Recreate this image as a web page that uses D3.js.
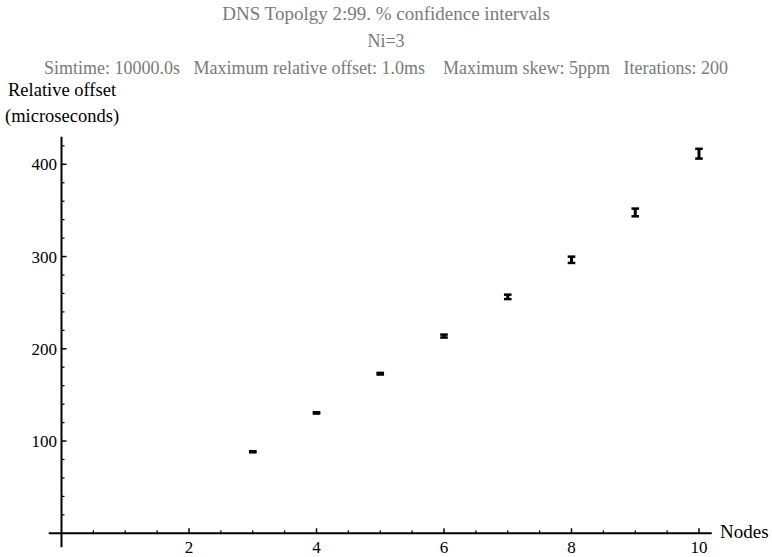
<!DOCTYPE html>
<html>
<head>
<meta charset="utf-8">
<script src="https://cdn.jsdelivr.net/npm/d3@7"></script>
<style>
  body { margin: 0; background: #fff; }
  svg text { font-family: "Liberation Serif", "Times New Roman", serif; white-space: pre; }
</style>
</head>
<body>
<svg id="chart" width="772" height="557"></svg>
<script>
// Data: nodes vs mean relative offset and 99% CI half-width (microseconds)
const nodes = [3, 4, 5, 6, 7, 8, 9, 10];
const offsets = [88.4, 130.5, 173, 213.8, 256.3, 296.5, 347.8, 411.5];
const ciHalf = [0.6, 0.7, 0.9, 1.6, 2.4, 3.4, 4.2, 5.3];

const xMajor = [2, 4, 6, 8, 10];
const yMajor = [100, 200, 300, 400];

const titleLines = [
    "DNS Topolgy 2:99. % confidence intervals",
    "Ni=3",
    "Simtime: 10000.0s   Maximum relative offset: 1.0ms    Maximum skew: 5ppm   Iterations: 200"
];

const svg = d3.select("#chart");

// scales - axes cross at (0,0)
const x = d3.scaleLinear().domain([0, 10]).range([61.5, 699]);
const y = d3.scaleLinear().domain([0, 400]).range([533.3, 164.3]);

const axisColor = "#000";

/* ------- TITLES ------- */
const titleY = [20, 47, 74];
const titleSize = [19, 18, 18];
svg.append("g").selectAll("text")
    .data(titleLines)
    .enter().append("text")
    .attr("x", 386)
    .attr("y", (d, i) => titleY[i])
    .attr("text-anchor", "middle")
    .attr("fill", "#7a7a7a")
    .style("font-size", (d, i) => titleSize[i] + "px")
    .text(d => d);

/* ------- AXES ------- */
const axes = svg.append("g");

// x axis line
axes.append("line")
    .attr("x1", x(-0.2)).attr("x2", x(10.2))
    .attr("y1", y(0)).attr("y2", y(0))
    .attr("stroke", axisColor).attr("stroke-width", 2);

// y axis line
axes.append("line")
    .attr("x1", x(0)).attr("x2", x(0))
    .attr("y1", y(-15)).attr("y2", y(430))
    .attr("stroke", axisColor).attr("stroke-width", 2);

// x ticks: minor every 0.5, major every 2
const xTicks = d3.range(0.5, 10.01, 0.5);
axes.append("g").selectAll("line")
    .data(xTicks)
    .enter().append("line")
    .attr("x1", d => x(d)).attr("x2", d => x(d))
    .attr("y1", y(0))
    .attr("y2", d => y(0) - (xMajor.includes(d) ? 5 : 3))
    .attr("stroke", axisColor)
    .attr("stroke-width", d => xMajor.includes(d) ? 1.5 : 1.2);

// y ticks: minor every 20, major every 100
const yTicks = d3.range(20, 421, 20);
axes.append("g").selectAll("line")
    .data(yTicks)
    .enter().append("line")
    .attr("x1", x(0))
    .attr("x2", d => x(0) + (yMajor.includes(d) ? 5 : 3))
    .attr("y1", d => y(d)).attr("y2", d => y(d))
    .attr("stroke", axisColor)
    .attr("stroke-width", d => yMajor.includes(d) ? 1.5 : 1.2);

// tick labels
axes.append("g").selectAll("text")
    .data(xMajor)
    .enter().append("text")
    .attr("x", d => x(d))
    .attr("y", 553)
    .attr("text-anchor", "middle")
    .style("font-size", "17px")
    .text(d => d);

axes.append("g").selectAll("text")
    .data(yMajor)
    .enter().append("text")
    .attr("x", 57)
    .attr("y", d => y(d) + 6)
    .attr("text-anchor", "end")
    .style("font-size", "17px")
    .text(d => d);

// axis labels
svg.append("text").attr("x", 720).attr("y", 538)
    .style("font-size", "19px").text("Nodes");
svg.append("text").attr("x", 8).attr("y", 96)
    .style("font-size", "18.5px").text("Relative offset");
svg.append("text").attr("x", 5).attr("y", 122)
    .style("font-size", "18.5px").text("(microseconds)");

/* ------- ERROR BARS ------- */
const data = nodes.map((n, i) => ({ n: n, v: offsets[i], e: ciHalf[i] }));
const capW = 3.8;

const bars = svg.append("g").selectAll("g")
    .data(data)
    .enter().append("g");

bars.append("line")
    .attr("x1", d => x(d.n)).attr("x2", d => x(d.n))
    .attr("y1", d => y(d.v - d.e)).attr("y2", d => y(d.v + d.e))
    .attr("stroke", "#000").attr("stroke-width", 3);

bars.append("line")
    .attr("x1", d => x(d.n) - capW).attr("x2", d => x(d.n) + capW)
    .attr("y1", d => y(d.v + d.e)).attr("y2", d => y(d.v + d.e))
    .attr("stroke", "#000").attr("stroke-width", 2.5);

bars.append("line")
    .attr("x1", d => x(d.n) - capW).attr("x2", d => x(d.n) + capW)
    .attr("y1", d => y(d.v - d.e)).attr("y2", d => y(d.v - d.e))
    .attr("stroke", "#000").attr("stroke-width", 2.5);
</script>
</body>
</html>
